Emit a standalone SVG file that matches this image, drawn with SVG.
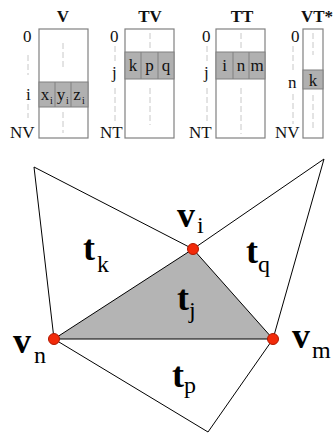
<svg xmlns="http://www.w3.org/2000/svg" width="334" height="434" viewBox="0 0 334 434">
<style>
.box{fill:#fff;stroke:#808080;stroke-width:1.2}
.row{fill:#b0b0b0;stroke:#808080;stroke-width:1}
.dash{stroke:#c8c8c8;stroke-width:1;stroke-dasharray:6 3;fill:none}
.hdr{font-family:"Liberation Serif",serif;font-weight:bold;font-size:17px;fill:#111}
.lbl{font-family:"Liberation Serif",serif;font-size:17px;fill:#111}
.cell{font-family:"Liberation Serif",serif;font-size:17px;fill:#111;text-anchor:middle}
.sub{font-family:"Liberation Serif",serif;font-size:10px;fill:#111}
.big{font-family:"Liberation Serif",serif;font-weight:bold;font-size:36px;fill:#000}
.bsub{font-family:"Liberation Serif",serif;font-size:24px;fill:#000}
.edge{stroke:#000;stroke-width:1;fill:none}
.vtx{fill:#f22a0a;stroke:#b01800;stroke-width:1}
</style>
<rect width="334" height="434" fill="#fff"/>

<g id="table-V">
<rect class="box" x="39" y="29" width="49" height="109"/>
<rect class="row" x="39" y="82" width="49" height="25"/>
<line class="row" x1="55" y1="82" x2="55" y2="107"/>
<line class="row" x1="71" y1="82" x2="71" y2="107"/>
<line class="dash" x1="63" y1="43" x2="63" y2="70"/>
<line class="dash" x1="63" y1="112" x2="63" y2="133"/>
<line class="dash" x1="28" y1="55" x2="28" y2="75"/>
<line class="dash" x1="28" y1="104" x2="28" y2="118"/>
<text class="hdr" x="63" y="22" text-anchor="middle">V</text>
<text class="lbl" x="23" y="42">0</text>
<text class="lbl" x="26" y="100">i</text>
<text class="lbl" x="10" y="138">NV</text>
<text class="cell" x="45" y="100">x</text><text class="sub" x="50" y="104">i</text>
<text class="cell" x="61" y="100">y</text><text class="sub" x="66" y="104">i</text>
<text class="cell" x="77" y="100">z</text><text class="sub" x="82" y="104">i</text>
</g>

<g id="table-TV">
<rect class="box" x="125" y="29" width="49" height="109"/>
<rect class="row" x="125" y="52" width="49" height="27"/>
<line class="row" x1="141" y1="52" x2="141" y2="79"/>
<line class="row" x1="158" y1="52" x2="158" y2="79"/>
<line class="dash" x1="150" y1="33" x2="150" y2="48"/>
<line class="dash" x1="150" y1="88" x2="150" y2="125"/>
<line class="dash" x1="115" y1="46" x2="115" y2="62"/>
<line class="dash" x1="115" y1="88" x2="115" y2="122"/>
<text class="hdr" x="150" y="22" text-anchor="middle">TV</text>
<text class="lbl" x="110" y="42">0</text>
<text class="lbl" x="112" y="78">j</text>
<text class="lbl" x="100" y="138">NT</text>
<text class="cell" x="133" y="71">k</text>
<text class="cell" x="149.5" y="71">p</text>
<text class="cell" x="166" y="71">q</text>
</g>

<g id="table-TT">
<rect class="box" x="216" y="29" width="49" height="109"/>
<rect class="row" x="216" y="52" width="49" height="27"/>
<line class="row" x1="233" y1="52" x2="233" y2="79"/>
<line class="row" x1="249" y1="52" x2="249" y2="79"/>
<line class="dash" x1="241" y1="33" x2="241" y2="48"/>
<line class="dash" x1="241" y1="88" x2="241" y2="134"/>
<line class="dash" x1="207" y1="46" x2="207" y2="62"/>
<line class="dash" x1="207" y1="88" x2="207" y2="122"/>
<text class="hdr" x="242" y="22" text-anchor="middle">TT</text>
<text class="lbl" x="202" y="42">0</text>
<text class="lbl" x="204" y="78">j</text>
<text class="lbl" x="189" y="138">NT</text>
<text class="cell" x="224.5" y="71">i</text>
<text class="cell" x="241" y="71">n</text>
<text class="cell" x="257" y="71">m</text>
</g>

<g id="table-VT">
<rect class="box" x="303" y="29" width="20" height="109"/>
<rect class="row" x="303" y="70" width="20" height="19"/>
<line class="dash" x1="313" y1="33" x2="313" y2="55"/>
<line class="dash" x1="313" y1="95" x2="313" y2="130"/>
<line class="dash" x1="293" y1="46" x2="293" y2="72"/>
<line class="dash" x1="293" y1="94" x2="293" y2="124"/>
<text class="hdr" x="301" y="22">VT*</text>
<text class="lbl" x="291" y="42">0</text>
<text class="lbl" x="288" y="88">n</text>
<text class="lbl" x="275" y="138">NV</text>
<text class="cell" x="313" y="86">k</text>
</g>

<g id="connectors">
<polygon id="tj" points="54,339 193,249 273,339" fill="#b4b4b4" stroke="#000" stroke-width="1"/>
<polyline class="edge" points="54,339 34,167 193,249"/>
<polyline class="edge" points="193,249 324,159 273,339"/>
<polyline class="edge" points="54,339 208,432 273,339"/>
</g>

<g id="vi"><circle class="vtx" cx="193" cy="249" r="5.5"/><text class="big" x="177" y="227">v</text><text class="bsub" x="197" y="233">i</text></g>
<g id="vn"><circle class="vtx" cx="54" cy="339" r="5.5"/><text class="big" x="13" y="353">v</text><text class="bsub" x="34" y="363">n</text></g>
<g id="vm"><circle class="vtx" cx="273" cy="339" r="5.5"/><text class="big" x="292" y="348">v</text><text class="bsub" x="312" y="358">m</text></g>

<g id="tk"><text class="big" x="83" y="260">t</text><text class="bsub" x="97" y="272">k</text></g>
<g id="tq"><text class="big" x="246" y="263">t</text><text class="bsub" x="258" y="272">q</text></g>
<g id="tj-label"><text class="big" x="177" y="310" font-weight="normal">t</text><text class="bsub" x="189" y="318">j</text></g>
<g id="tp"><text class="big" x="172" y="387">t</text><text class="bsub" x="184" y="393">p</text></g>
</svg>
